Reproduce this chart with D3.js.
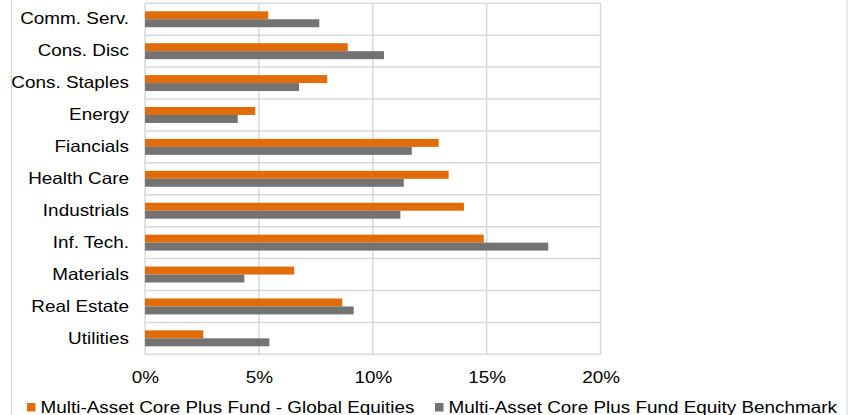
<!DOCTYPE html>
<html>
<head>
<meta charset="utf-8">
<script src="https://cdn.jsdelivr.net/npm/d3@7"></script>
<style>
  html, body { margin: 0; padding: 0; background: #fff; }
  svg { display: block; font-family: "Liberation Sans", Arial, sans-serif; }
</style>
</head>
<body>
<svg id="chart" width="850" height="415"></svg>
<script>
const categories = ["Comm. Serv.", "Cons. Disc", "Cons. Staples", "Energy", "Fiancials", "Health Care", "Industrials", "Inf. Tech.", "Materials", "Real Estate", "Utilities"];
const fundValues = [5.41, 8.90, 8.00, 4.84, 12.89, 13.33, 14.00, 14.87, 6.55, 8.66, 2.56];
const benchmarkValues = [7.65, 10.49, 6.76, 4.07, 11.71, 11.36, 11.21, 17.70, 4.36, 9.16, 5.46];
const seriesNames = ["Multi-Asset Core Plus Fund - Global Equities", "Multi-Asset Core Plus Fund Equity Benchmark"];
const xTicks = [0, 5, 10, 15, 20];
const colors = ["#e36c0a", "#737373"];

const svg = d3.select("#chart");
const W = 850, H = 415;
const FS = 16.3, SX = 1.16;
const FONT = "'Liberation Sans', Arial, sans-serif";

// outer chart border (left/right visible)
svg.append("rect").attr("x", 11.5).attr("y", -10).attr("width", 835.5).attr("height", H + 20)
  .attr("fill", "none").attr("stroke", "#d9d9d9").attr("stroke-width", 1.2);

const x = d3.scaleLinear().domain([0, 20]).range([145, 600.6]);
const y = d3.scaleBand().domain(categories).range([3.3, 354.3]).paddingInner(0).paddingOuter(0);
const bw = y.bandwidth();

const grid = svg.append("g").attr("stroke", "#d9d9d9").attr("stroke-width", 1.5);
const bounds = categories.map(c => y(c)).concat([y(categories[categories.length - 1]) + bw]);
grid.selectAll("line.h").data(bounds).join("line")
  .attr("x1", x(0)).attr("x2", x(20)).attr("y1", d => d).attr("y2", d => d);
grid.selectAll("line.v").data(xTicks).join("line")
  .attr("x1", d => x(d)).attr("x2", d => x(d)).attr("y1", bounds[0]).attr("y2", bounds[bounds.length - 1]);

const series = [fundValues, benchmarkValues];
const barH = bw / 4;
series.forEach((vals, si) => {
  svg.append("g").selectAll("rect").data(categories).join("rect")
    .attr("x", x(0))
    .attr("y", (c) => y(c) + bw / 4 + si * barH)
    .attr("width", (c, i) => x(vals[i]) - x(0))
    .attr("height", barH)
    .attr("fill", colors[si]);
});

// y axis labels
const yAxis = d3.axisLeft(y).tickSize(0).tickPadding(0);
const gy = svg.append("g").attr("transform", "translate(129,0)").call(yAxis);
gy.select(".domain").remove();
gy.attr("font-family", FONT);
gy.selectAll("text").attr("font-size", FS).attr("fill", "#000").attr("x", 0)
  .attr("transform", `scale(${SX},1)`);

// x axis labels
const xAxis = d3.axisBottom(x).tickValues(xTicks).tickFormat(d => d + "%").tickSize(0).tickPadding(0);
const gx = svg.append("g").attr("transform", "translate(0,371.5)").call(xAxis);
gx.select(".domain").remove();
gx.attr("font-family", FONT);
gx.selectAll("text").attr("font-size", FS).attr("fill", "#000")
  .attr("transform", `scale(${SX},1)`);

// legend
const legendPos = [27, 435];
seriesNames.forEach((name, i) => {
  const g = svg.append("g").attr("transform", `translate(${legendPos[i]},0)`);
  g.append("rect").attr("x", 0).attr("y", 403).attr("width", 8.5).attr("height", 8.5).attr("fill", colors[i]);
  g.append("g").attr("transform", `translate(13.5,413) scale(${SX},1)`)
    .append("text").attr("x", 0).attr("y", 0).attr("font-size", FS).attr("fill", "#000").text(name);
});
</script>
</body>
</html>
